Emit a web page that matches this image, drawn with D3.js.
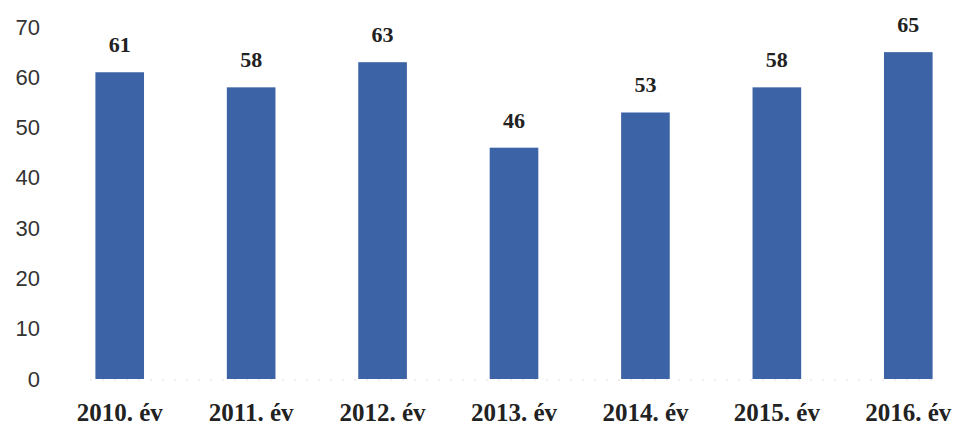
<!DOCTYPE html>
<html>
<head>
<meta charset="utf-8">
<script src="https://cdn.jsdelivr.net/npm/d3@7"></script>
<style>
  html, body { margin: 0; padding: 0; background: #fff; }
</style>
</head>
<body>
<div id="chart"></div>
<script>
const years = ["2010. év", "2011. év", "2012. év", "2013. év", "2014. év", "2015. év", "2016. év"];
const counts = [61, 58, 63, 46, 53, 58, 65];
const yTicks = [0, 10, 20, 30, 40, 50, 60, 70];

const width = 954, height = 432;
const serif = "'Liberation Serif', 'DejaVu Serif', serif";

const svg = d3.select("#chart").append("svg")
  .attr("width", width)
  .attr("height", height);

const x = d3.scaleBand()
  .domain(years)
  .range([54, 974])
  .paddingInner(0.63)
  .paddingOuter(0.315);

const y = d3.scaleLinear()
  .domain([0, 70])
  .range([379, 27]);

// faint dotted baseline
svg.append("line")
  .attr("x1", 90)
  .attr("x2", 940)
  .attr("y1", y(0) + 1)
  .attr("y2", y(0) + 1)
  .attr("stroke", "#ddd")
  .attr("stroke-width", 1)
  .attr("stroke-dasharray", "2 10");

// y axis labels only
const yAxis = svg.append("g")
  .attr("transform", "translate(40,0)")
  .call(d3.axisLeft(y).tickValues(yTicks).tickSize(0).tickPadding(0));
yAxis.select(".domain").remove();
yAxis.selectAll("text")
  .style("font-size", "22px")
  .style("font-family", "'Liberation Sans', Arial, sans-serif")
  .style("fill", "#333");

svg.selectAll(".bar")
  .data(counts)
  .join("rect")
  .attr("class", "bar")
  .attr("x", (d, i) => x(years[i]))
  .attr("width", x.bandwidth())
  .attr("y", d => y(d))
  .attr("height", d => y(0) - y(d))
  .attr("fill", "#3c63a6");

svg.selectAll(".val")
  .data(counts)
  .join("text")
  .attr("class", "val")
  .attr("x", (d, i) => x(years[i]) + x.bandwidth() / 2)
  .attr("y", d => y(d) - 20)
  .attr("text-anchor", "middle")
  .style("font-size", "22px")
  .style("font-weight", "bold")
  .style("font-family", serif)
  .style("fill", "#222")
  .text(d => d);

// x axis labels
const xAxis = svg.append("g")
  .attr("transform", `translate(0,${y(0)})`)
  .call(d3.axisBottom(x).tickSize(0).tickPadding(0));
xAxis.select(".domain").remove();
xAxis.selectAll("text")
  .attr("dy", 0)
  .attr("y", 42)
  .style("font-size", "25px")
  .style("font-weight", "bold")
  .style("font-family", serif)
  .style("fill", "#222");
</script>
</body>
</html>
